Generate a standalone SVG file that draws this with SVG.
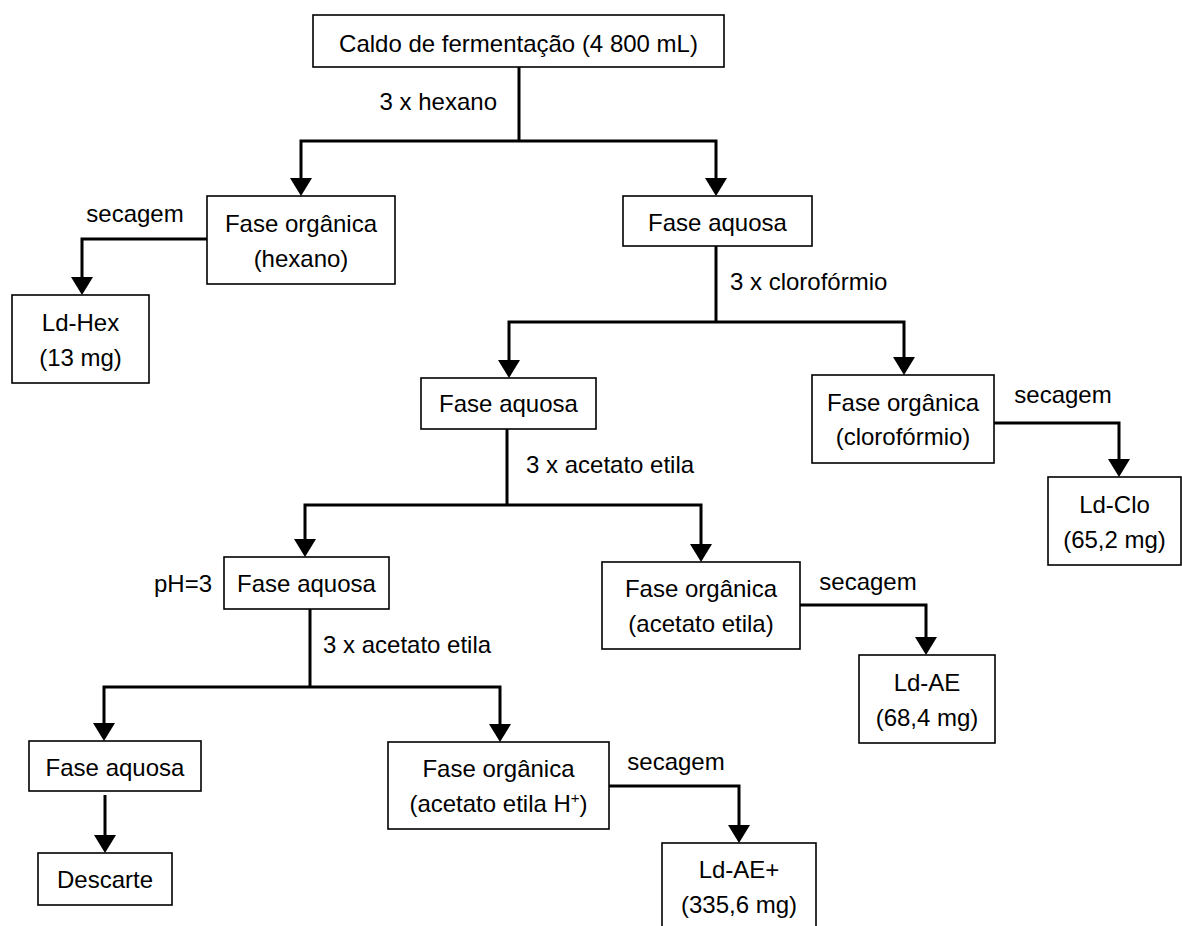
<svg xmlns="http://www.w3.org/2000/svg" width="1182" height="926" viewBox="0 0 1182 926">
<style>
  .box { fill: #ffffff; stroke: #000000; stroke-width: 1.6; }
  .t { font-family: "Liberation Sans", Arial, sans-serif; font-size: 24px; fill: #000000; }
  .c { text-anchor: middle; }
  .e { text-anchor: end; }
  .ln { fill: none; stroke: #000000; stroke-width: 3; stroke-linejoin: miter; }
</style>
<defs>
  <marker id="arr" markerUnits="userSpaceOnUse" markerWidth="20" markerHeight="24" refX="15" refY="11" orient="auto" viewBox="0 0 20 22">
    <path d="M0,0 L18,11 L0,22 Z" fill="#000000"/>
  </marker>
</defs>
<rect width="1182" height="926" fill="#ffffff"/>

<g id="connectors">
  <path class="ln" d="M519,67 V141"/>
  <path class="ln" d="M519,141 H301 V193" marker-end="url(#arr)"/>
  <path class="ln" d="M519,141 H716 V193" marker-end="url(#arr)"/>
  <path class="ln" d="M207,239 H82 V292" marker-end="url(#arr)"/>

  <path class="ln" d="M716,246 V322"/>
  <path class="ln" d="M716,322 H509 V375" marker-end="url(#arr)"/>
  <path class="ln" d="M716,322 H904 V372" marker-end="url(#arr)"/>
  <path class="ln" d="M994,423 H1119 V474" marker-end="url(#arr)"/>

  <path class="ln" d="M507,429 V505"/>
  <path class="ln" d="M507,505 H305 V554" marker-end="url(#arr)"/>
  <path class="ln" d="M507,505 H701 V559" marker-end="url(#arr)"/>
  <path class="ln" d="M800,605 H926 V652" marker-end="url(#arr)"/>

  <path class="ln" d="M310,609 V687"/>
  <path class="ln" d="M310,687 H104 V738" marker-end="url(#arr)"/>
  <path class="ln" d="M310,687 H500 V739" marker-end="url(#arr)"/>
  <path class="ln" d="M105,795 V850" marker-end="url(#arr)"/>
  <path class="ln" d="M609,786 H739 V840" marker-end="url(#arr)"/>

  <text class="t e" x="497" y="110">3 x hexano</text>
  <text class="t c" x="135" y="222">secagem</text>
  <text class="t" x="730" y="290">3 x clorofórmio</text>
  <text class="t c" x="1063" y="403">secagem</text>
  <text class="t" x="526" y="473">3 x acetato etila</text>
  <text class="t c" x="868" y="590">secagem</text>
  <text class="t e" x="212" y="592">pH=3</text>
  <text class="t" x="323" y="653">3 x acetato etila</text>
  <text class="t c" x="676" y="770">secagem</text>
</g>

<g id="caldo">
  <rect class="box" x="313" y="15" width="411" height="52"/>
  <text class="t c" x="518.5" y="52">Caldo de fermentação (4 800 mL)</text>
</g>
<g id="org-hexano">
  <rect class="box" x="207" y="196" width="188" height="88"/>
  <text class="t c" x="301" y="232">Fase orgânica</text>
  <text class="t c" x="301" y="267">(hexano)</text>
</g>
<g id="aq-1">
  <rect class="box" x="623" y="196" width="189" height="50"/>
  <text class="t c" x="717.5" y="231">Fase aquosa</text>
</g>
<g id="ld-hex">
  <rect class="box" x="12" y="295" width="137" height="88"/>
  <text class="t c" x="80.5" y="331">Ld-Hex</text>
  <text class="t c" x="80.5" y="366">(13 mg)</text>
</g>
<g id="aq-2">
  <rect class="box" x="421" y="378" width="175" height="51"/>
  <text class="t c" x="508.5" y="412">Fase aquosa</text>
</g>
<g id="org-cloro">
  <rect class="box" x="812" y="375" width="182" height="88"/>
  <text class="t c" x="903" y="411">Fase orgânica</text>
  <text class="t c" x="903" y="445">(clorofórmio)</text>
</g>
<g id="ld-clo">
  <rect class="box" x="1048" y="477" width="133" height="88"/>
  <text class="t c" x="1114.5" y="513">Ld-Clo</text>
  <text class="t c" x="1114.5" y="548">(65,2 mg)</text>
</g>
<g id="aq-3">
  <rect class="box" x="224" y="557" width="165" height="52"/>
  <text class="t c" x="306.5" y="592">Fase aquosa</text>
</g>
<g id="org-ae">
  <rect class="box" x="602" y="562" width="198" height="87"/>
  <text class="t c" x="701" y="597">Fase orgânica</text>
  <text class="t c" x="701" y="632">(acetato etila)</text>
</g>
<g id="ld-ae">
  <rect class="box" x="859" y="655" width="136" height="88"/>
  <text class="t c" x="927" y="691">Ld-AE</text>
  <text class="t c" x="927" y="726">(68,4 mg)</text>
</g>
<g id="aq-4">
  <rect class="box" x="29" y="741" width="172" height="50"/>
  <text class="t c" x="115" y="776">Fase aquosa</text>
</g>
<g id="descarte">
  <rect class="box" x="38" y="853" width="134" height="52"/>
  <text class="t c" x="105" y="888">Descarte</text>
</g>
<g id="org-ae-h">
  <rect class="box" x="388" y="742" width="221" height="87"/>
  <text class="t c" x="498.5" y="777">Fase orgânica</text>
  <text class="t c" x="498.5" y="812">(acetato etila H<tspan font-size="15" dy="-9">+</tspan><tspan dy="9">)</tspan></text>
</g>
<g id="ld-ae-plus">
  <rect class="box" x="662" y="843" width="154" height="90"/>
  <text class="t c" x="739" y="878">Ld-AE+</text>
  <text class="t c" x="739" y="913">(335,6 mg)</text>
</g>
</svg>
